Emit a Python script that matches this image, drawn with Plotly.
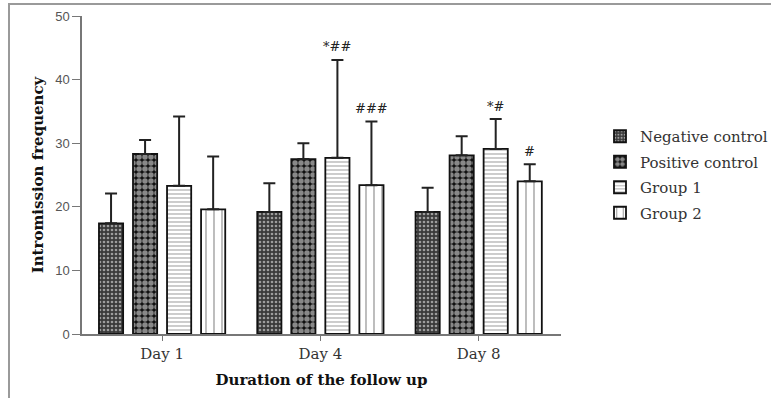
import plotly.graph_objects as go

days = ["Day 1", "Day 4", "Day 8"]
series = ["Negative control", "Positive control", "Group 1", "Group 2"]
means = {
    "Negative control": [17.4, 19.2, 19.2],
    "Positive control": [28.3, 27.5, 28.1],
    "Group 1": [23.3, 27.7, 29.1],
    "Group 2": [19.6, 23.4, 24.0],
}
errors = {
    "Negative control": [4.7, 4.5, 3.8],
    "Positive control": [2.2, 2.5, 3.0],
    "Group 1": [10.9, 15.4, 4.7],
    "Group 2": [8.3, 10.0, 2.7],
}
marks = {
    "Negative control": ["", "", ""],
    "Positive control": ["", "", ""],
    "Group 1": ["", "*##", "*#"],
    "Group 2": ["", "###", "#"],
}
y_ticks = [0, 10, 20, 30, 40, 50]

patterns = {
    "Negative control": dict(shape=".", bgcolor="#3a3a3a", fgcolor="white", size=4, solidity=0.35),
    "Positive control": dict(shape=".", bgcolor="#111111", fgcolor="white", size=6, solidity=0.65),
    "Group 1": dict(shape="-", bgcolor="white", fgcolor="#555555", size=4, solidity=0.3),
    "Group 2": dict(shape="|", bgcolor="white", fgcolor="#222222", size=8, solidity=0.15),
}

serif = "DejaVu Serif"
fig = go.Figure()
for i, s in enumerate(series):
    fig.add_trace(go.Bar(
        name=s, x=days, y=means[s], legendgroup=s,
        marker=dict(color="white", line=dict(color="#111111", width=1.8), pattern=patterns[s]),
        error_y=dict(type="data", array=errors[s], arrayminus=[0] * len(days), symmetric=False,
                     color="#222222", thickness=2, width=6),
    ))

bargap = 0.14
slot = (1 - bargap) / len(series)
annotations = []
for i, s in enumerate(series):
    for j, d in enumerate(days):
        if marks[s][j]:
            annotations.append(dict(
                x=j + (i - (len(series) - 1) / 2) * slot, y=means[s][j] + errors[s][j],
                xref="x", yref="y", text=marks[s][j], showarrow=False,
                yanchor="middle", yshift=13, font=dict(family=serif, size=13, color="#222222"),
            ))

L, R, T, B = 82, 210, 16, 64
W, H = 771, 398
pw, ph = W - L - R, H - T - B

def px(x):
    return (x - L) / pw

def py(y):
    return 1 - (y - T) / ph

fig.update_layout(
    width=W, height=H, margin=dict(l=L, r=R, t=T, b=B, autoexpand=False),
    paper_bgcolor="white", plot_bgcolor="white",
    barmode="group", bargap=bargap, bargroupgap=0.29,
    showlegend=True,
    legend=dict(x=px(600), y=py(120), xanchor="left", yanchor="top",
                font=dict(family=serif, size=15, color="#333333"),
                traceorder="grouped", tracegroupgap=3, bgcolor="rgba(0,0,0,0)"),
    annotations=annotations,
    shapes=[dict(type="rect", xref="paper", yref="paper",
                 x0=px(9), x1=px(790), y0=py(420), y1=py(4),
                 line=dict(color="#9a9a9a", width=2), layer="below")],
    xaxis=dict(range=[-0.506, 2.52], showline=True, linecolor="#777777", linewidth=1.5,
               ticks="outside", ticklen=5, tickcolor="#777777",
               tickfont=dict(family=serif, size=15, color="#333333"),
               title=dict(text="<b>Duration of the follow up</b>", standoff=13,
                          font=dict(family=serif, size=15, color="#111111"))),
    yaxis=dict(range=[0, 50], tickvals=y_ticks, showline=True, linecolor="#777777", linewidth=1.5,
               ticks="outside", ticklen=8, tickcolor="#777777", showgrid=False, zeroline=False,
               tickfont=dict(family="Liberation Sans", size=13, color="#555555"),
               title=dict(text="<b>Intromission frequency</b>", standoff=8,
                          font=dict(family=serif, size=15, color="#111111"))),
)

fig.write_html("out.html", post_script="document.body.style.margin='0';",
               config={"displayModeBar": False})
